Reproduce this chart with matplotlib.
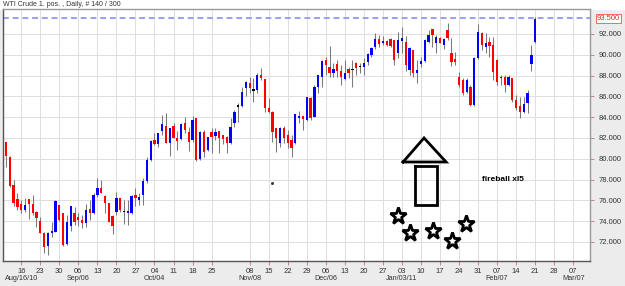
import matplotlib
matplotlib.use("Agg")
import matplotlib.pyplot as plt
import matplotlib.transforms as mtransforms
import numpy as np

plt.rcParams['font.family'] = ['Liberation Sans', 'DejaVu Sans']

# daily OHLC, WTI crude front month, Aug 2010 - Feb 2011
opens = [81.58, 80.20, 77.48, 76.13, 75.62, 75.08, 76.10, 75.65, 74.92, 74.05,
         72.83, 71.61, 72.83, 72.99, 75.52, 74.76, 71.80, 73.54, 74.76, 74.44,
         74.12, 73.86, 75.14, 74.76, 76.52, 77.16, 76.46, 75.72, 74.53, 74.92,
         76.20, 74.85, 74.82, 74.76, 76.52, 76.00, 76.52, 77.90, 79.89, 81.81,
         81.39, 82.70, 83.15, 81.55, 83.15, 82.03, 81.87, 83.41, 82.60, 81.81,
         83.89, 79.95, 82.60, 80.85, 82.55, 82.23, 82.67, 82.29, 82.13, 81.49,
         83.41, 85.00, 85.08, 86.77, 87.26, 86.62, 86.62, 88.06, 87.64, 84.85,
         84.53, 82.93, 81.49, 82.93, 82.29, 81.81, 81.49, 83.89, 84.10, 83.73,
         85.80, 84.05, 86.94, 87.90, 89.50, 88.86, 88.28, 89.08, 88.47, 87.64,
         88.60, 88.50, 89.18, 88.86, 88.86, 89.34, 89.98, 90.72, 91.49, 91.10,
         91.33, 91.49, 91.42, 90.14, 91.36, 91.20, 88.54, 90.46, 88.22, 89.12,
         89.44, 91.20, 92.45, 91.10, 91.58, 90.94, 92.38, 90.20, 89.56, 87.90,
         87.58, 86.46, 86.94, 85.17, 89.66, 92.13, 90.78, 91.26, 90.94, 89.50,
         87.74, 87.90, 87.10, 87.74, 85.65, 85.08, 84.53, 85.33, 89.12, 91.23]
highs = [81.65, 80.25, 77.96, 76.68, 76.04, 76.23, 76.10, 76.52, 74.95, 74.43,
         72.95, 73.00, 73.95, 76.04, 75.60, 74.82, 74.60, 75.46, 75.40, 74.76,
         74.60, 75.65, 76.04, 76.68, 78.12, 77.96, 76.50, 75.78, 74.60, 76.84,
         76.20, 76.04, 76.04, 76.50, 77.16, 76.70, 78.12, 80.14, 81.80, 82.45,
         82.45, 84.21, 84.44, 83.00, 83.41, 82.70, 83.41, 84.05, 83.09, 84.10,
         83.95, 82.65, 82.77, 82.10, 82.93, 82.93, 82.70, 82.30, 82.15, 83.89,
         84.70, 85.33, 86.94, 87.51, 87.90, 87.74, 88.28, 88.70, 87.70, 85.80,
         84.55, 83.00, 83.09, 83.15, 82.77, 82.29, 84.30, 84.63, 84.15, 85.95,
         85.90, 87.10, 88.10, 89.50, 89.76, 90.85, 89.18, 89.50, 89.02, 89.50,
         88.86, 89.50, 89.34, 89.18, 89.66, 90.20, 90.78, 92.06, 91.90, 91.81,
         91.40, 91.65, 91.45, 92.20, 92.70, 91.80, 90.72, 90.50, 89.50, 89.82,
         91.49, 92.38, 92.50, 91.90, 91.74, 91.58, 93.03, 91.60, 90.30, 88.38,
         87.74, 87.74, 87.10, 89.82, 92.96, 92.22, 92.06, 91.74, 91.74, 89.55,
         88.06, 88.06, 88.06, 87.80, 86.14, 85.97, 85.90, 86.62, 90.94, 93.60]
lows = [79.24, 77.30, 75.46, 75.08, 74.82, 74.90, 74.24, 74.60, 73.41, 72.83,
        70.90, 70.72, 72.50, 72.93, 74.05, 71.65, 71.70, 73.09, 73.64, 73.54,
        73.30, 73.41, 74.12, 74.70, 76.36, 76.70, 74.76, 73.90, 72.74, 74.60,
        74.90, 73.73, 73.64, 74.70, 75.46, 75.56, 75.56, 77.64, 79.80, 81.30,
        81.17, 82.29, 81.50, 80.30, 82.00, 80.85, 81.80, 82.45, 80.78, 81.65,
        79.82, 79.90, 80.20, 80.70, 80.53, 81.81, 80.53, 81.42, 80.53, 81.42,
        83.03, 83.57, 85.00, 86.04, 86.30, 85.50, 86.36, 87.58, 84.53, 84.37,
        81.65, 80.69, 81.17, 81.49, 81.01, 80.20, 81.42, 83.41, 82.77, 83.60,
        83.70, 84.00, 86.30, 86.94, 88.06, 87.90, 87.90, 87.90, 87.10, 87.60,
        87.74, 86.94, 88.06, 88.22, 88.06, 89.00, 89.82, 90.53, 90.78, 90.94,
        90.85, 90.78, 89.02, 89.66, 90.14, 88.40, 88.06, 87.90, 87.26, 88.86,
        89.34, 91.10, 90.78, 90.14, 91.10, 90.53, 91.42, 88.90, 89.00, 86.94,
        86.14, 86.30, 85.08, 85.08, 89.56, 90.46, 90.14, 89.82, 87.58, 87.10,
        87.10, 86.46, 87.00, 85.50, 84.70, 83.89, 84.37, 84.37, 88.44, 91.10]
closes = [80.27, 77.38, 75.72, 75.40, 75.08, 75.52, 75.65, 74.76, 74.28, 72.90,
          71.55, 72.90, 73.09, 75.97, 74.12, 71.71, 73.95, 75.46, 73.95, 74.12,
          73.80, 75.08, 74.76, 76.52, 77.16, 76.74, 75.78, 73.95, 73.54, 76.20,
          75.08, 74.85, 74.98, 76.46, 76.20, 76.35, 77.87, 79.89, 81.74, 81.39,
          82.45, 83.35, 81.55, 82.99, 82.03, 81.74, 83.31, 82.77, 81.58, 83.73,
          79.88, 82.60, 80.69, 82.06, 82.13, 82.55, 82.03, 81.90, 81.49, 83.03,
          84.53, 85.08, 86.46, 87.42, 86.77, 86.55, 88.06, 87.74, 84.85, 84.53,
          82.61, 81.97, 82.93, 81.97, 81.49, 81.01, 84.28, 84.10, 83.79, 85.90,
          83.89, 86.94, 88.06, 89.44, 89.02, 88.22, 88.60, 88.47, 87.83, 88.28,
          88.28, 88.55, 88.70, 88.80, 89.25, 90.05, 90.62, 91.49, 91.04, 91.33,
          90.94, 90.88, 89.50, 91.42, 91.58, 89.00, 90.62, 88.22, 88.54, 89.44,
          91.42, 91.90, 91.90, 91.68, 91.17, 91.49, 91.58, 89.30, 89.34, 87.10,
          86.30, 87.58, 85.17, 89.66, 92.22, 90.94, 91.10, 90.85, 88.38, 87.42,
          87.90, 87.10, 87.90, 85.65, 84.85, 84.53, 85.27, 86.30, 89.98, 93.40]

# weekly ticks (weeks counted from Mon Aug 16 2010); week 11 (Nov 01) has no label
tick_weeks = [0, 1, 2, 3, 4, 5, 6, 7, 8, 9, 10, 12, 13, 14, 15, 16, 17, 18, 19,
              20, 21, 22, 23, 24, 25, 26, 27, 28, 29]
tick_days = ["16", "23", "30", "06", "13", "20", "27", "04", "11", "18", "25",
             "08", "15", "22", "29", "06", "13", "20", "27", "03", "10", "17",
             "24", "31", "07", "14", "21", "28", "07"]
month_weeks = [0, 3, 7, 12, 16, 20, 25, 29]
month_labels = ["Aug/16/10", "Sep/06", "Oct/04", "Nov/08", "Dec/06", "Jan/03/11",
                "Feb/07", "Mar/07"]
y_ticks = [72, 74, 76, 78, 80, 82, 84, 86, 88, 90, 92]
last_level = 93.5

# hand drawn annotations (trading-day index, price)
stars_x = [103.0, 106.1, 112.2, 117.2, 120.9]
stars_y = [74.5, 72.9, 73.1, 72.1, 73.7]

fig = plt.figure(figsize=(6.25, 2.86), dpi=100, facecolor='#ececec')
fig.patches.append(plt.Rectangle((0, 0.968), 1, 0.032, transform=fig.transFigure,
                                 color='white', zorder=-1))
ax = fig.add_axes([0.0048, 0.0874, 0.9392, 0.8811])
ax.set_facecolor('white')

x = np.arange(len(opens))
o = np.array(opens)
c = np.array(closes)
h = np.array(highs)
l = np.array(lows)

ax.vlines(x, l, h, color='#7a7a7a', lw=0.75, zorder=2)
bottom = np.minimum(o, c)
height = np.maximum(np.abs(c - o), 0.13)
colors = np.where(np.abs(c - o) < 0.1, '#000000', np.where(c > o, '#0000ff', '#ff0000'))
ax.bar(x, height, bottom=bottom, width=0.6, color=colors, lw=0, zorder=3)

ax.axhline(last_level, color='#9d9df5', lw=1.4, ls=(0, (3, 2)), zorder=1)

# arrow and stars
ax.plot([104.3, 109.8, 115.6, 104.3], [79.69, 82.0, 79.69, 79.69], color='black',
        lw=2.0, solid_joinstyle='miter', zorder=5)
ax.plot([107.5, 113.2, 113.2, 107.5, 107.5], [79.3, 79.3, 75.56, 75.56, 79.3],
        color='black', lw=2.0, solid_joinstyle='miter', zorder=5)
ax.plot(stars_x, stars_y, ls='none', marker='*', ms=12.5, mfc='white', mec='black',
        mew=2.0, zorder=5)
ax.plot([69.8], [77.7], ls='none', marker='s', ms=1, color='#333333')
ax.text(125.1, 77.96, "fireball xl5", fontsize=6, fontweight='bold', va='center',
        ha='left', color='black')

ax.set_xlim(-0.79, 153.4)
ax.set_ylim(70.17, 94.40)

tick_pos = [4 + 5 * w for w in tick_weeks]
ax.set_xticks(tick_pos)
ax.set_xticklabels(tick_days, fontsize=5.5, color='#333333')
ax.set_yticks(y_ticks)
ax.set_yticklabels([f"{v:.3f}" for v in y_ticks], fontsize=5.5, color='#333333')
ax.yaxis.tick_right()
ax.tick_params(axis='x', length=3, width=0.7, color='#d08080', pad=2)
ax.tick_params(axis='y', length=3, width=0.7, color='#d08080', pad=3)
ax.grid(True, color='#dedede', lw=0.7, zorder=0)
ax.set_axisbelow(True)

xtrans = mtransforms.blended_transform_factory(ax.transData, ax.transAxes)
for w, lab in zip(month_weeks, month_labels):
    ax.text(4 + 5 * w, -0.071, lab, transform=xtrans, fontsize=5.2, color='#333333',
            ha='center', va='center')

for side, col in [('left', '#555555'), ('bottom', '#555555'), ('top', '#999999'),
                  ('right', '#999999')]:
    ax.spines[side].set_color(col)
    ax.spines[side].set_linewidth(1.0)

trans = mtransforms.blended_transform_factory(ax.transAxes, ax.transData)
ax.text(1.012, last_level, f"{last_level:.3f}", transform=trans, fontsize=5.5,
        color='#cc3333', va='center', ha='left',
        bbox=dict(boxstyle='square,pad=0.15', fc='white', ec='#ff6666', lw=0.7))

fig.text(0.005, 0.995, "WTI Crude 1. pos. , Daily, # 140 / 300", fontsize=5,
         color='#333333', va='top', ha='left')

fig.savefig("out.png", dpi=100, facecolor=fig.get_facecolor())
